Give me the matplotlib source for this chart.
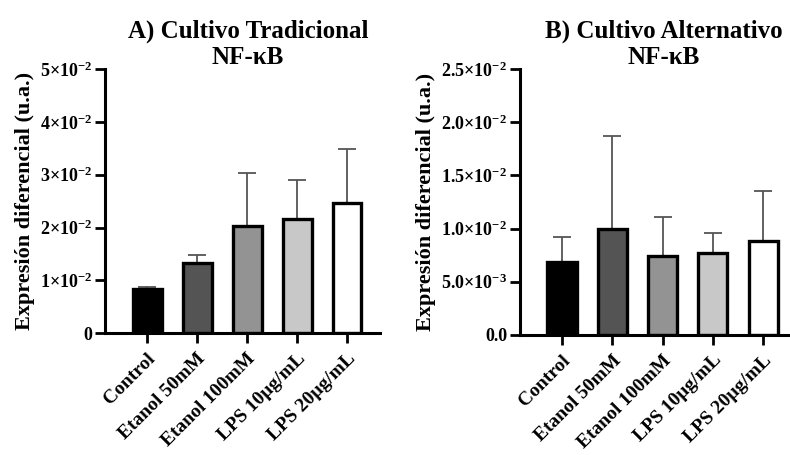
import matplotlib
matplotlib.use("Agg")
import matplotlib.pyplot as plt
import numpy as np

plt.rcParams['font.family'] = ['Liberation Serif', 'DejaVu Serif']
plt.rcParams['font.weight'] = 'bold'
plt.rcParams['mathtext.fontset'] = 'custom'
plt.rcParams['mathtext.rm'] = 'Liberation Serif:bold'
plt.rcParams['mathtext.bf'] = 'Liberation Serif:bold'
plt.rcParams['mathtext.it'] = 'Liberation Serif:bold'

categories = ["Control", "Etanol 50mM", "Etanol 100mM", "LPS 10µg/mL", "LPS 20µg/mL"]
colors = ["#000000", "#545454", "#939393", "#c8c8c8", "#ffffff"]

trad_mean = [0.0084, 0.0132, 0.0203, 0.0216, 0.0246]
trad_err = [0.0003, 0.0016, 0.0100, 0.0074, 0.0102]
alt_mean = [0.00686, 0.00996, 0.00742, 0.00770, 0.00883]
alt_err = [0.00235, 0.00874, 0.00368, 0.00189, 0.00470]

trad_ticks = [0, 0.01, 0.02, 0.03, 0.04, 0.05]
trad_ticklabels = ["0", r"$1{\times}10^{-2}$", r"$2{\times}10^{-2}$", r"$3{\times}10^{-2}$",
                   r"$4{\times}10^{-2}$", r"$5{\times}10^{-2}$"]
alt_ticks = [0, 0.005, 0.010, 0.015, 0.020, 0.025]
alt_ticklabels = ["0.0", r"$5.0{\times}10^{-3}$", r"$1.0{\times}10^{-2}$", r"$1.5{\times}10^{-2}$",
                  r"$2.0{\times}10^{-2}$", r"$2.5{\times}10^{-2}$"]

fig = plt.figure(figsize=(7.9, 4.55), dpi=100)
ax1 = fig.add_axes([0.133, 0.268, 0.348, 0.580])
ax2 = fig.add_axes([0.658, 0.264, 0.350, 0.584])

def draw(ax, means, errs, ticks, ticklabels, title):
    x = np.arange(len(categories))
    ax.errorbar(x, means, yerr=[np.zeros(len(errs)), errs], fmt='none',
                ecolor='#555555', elinewidth=1.3, capsize=6.5, capthick=1.3, zorder=1)
    ax.bar(x, means, width=0.58, color=colors, edgecolor='black', linewidth=2.4, zorder=2)
    ax.set_xlim(-0.84, 4.66)
    ax.set_ylim(0, ticks[-1])
    ax.set_yticks(ticks)
    ax.set_yticklabels(ticklabels, fontsize=13, fontweight='bold')
    ax.set_xticks(x)
    ax.set_xticklabels(categories, rotation=45, ha='right', rotation_mode='anchor',
                       fontsize=14, fontweight='bold')
    for s in ['top', 'right']:
        ax.spines[s].set_visible(False)
    for s in ['left', 'bottom']:
        ax.spines[s].set_linewidth(2.2)
    ax.tick_params(axis='both', direction='out', length=7, width=2, pad=2)
    ax.tick_params(axis='x', pad=5)
    ax.set_ylabel("Expresión diferencial (u.a.)", fontsize=16, fontweight='bold', labelpad=4)
    ax.set_title(title, fontsize=18, fontweight='bold', linespacing=1.12, pad=4, x=0.52)

draw(ax1, trad_mean, trad_err, trad_ticks, trad_ticklabels, "A) Cultivo Tradicional\nNF-κB")
draw(ax2, alt_mean, alt_err, alt_ticks, alt_ticklabels, "B) Cultivo Alternativo\nNF-κB")

fig.savefig("out.png", dpi=100)
